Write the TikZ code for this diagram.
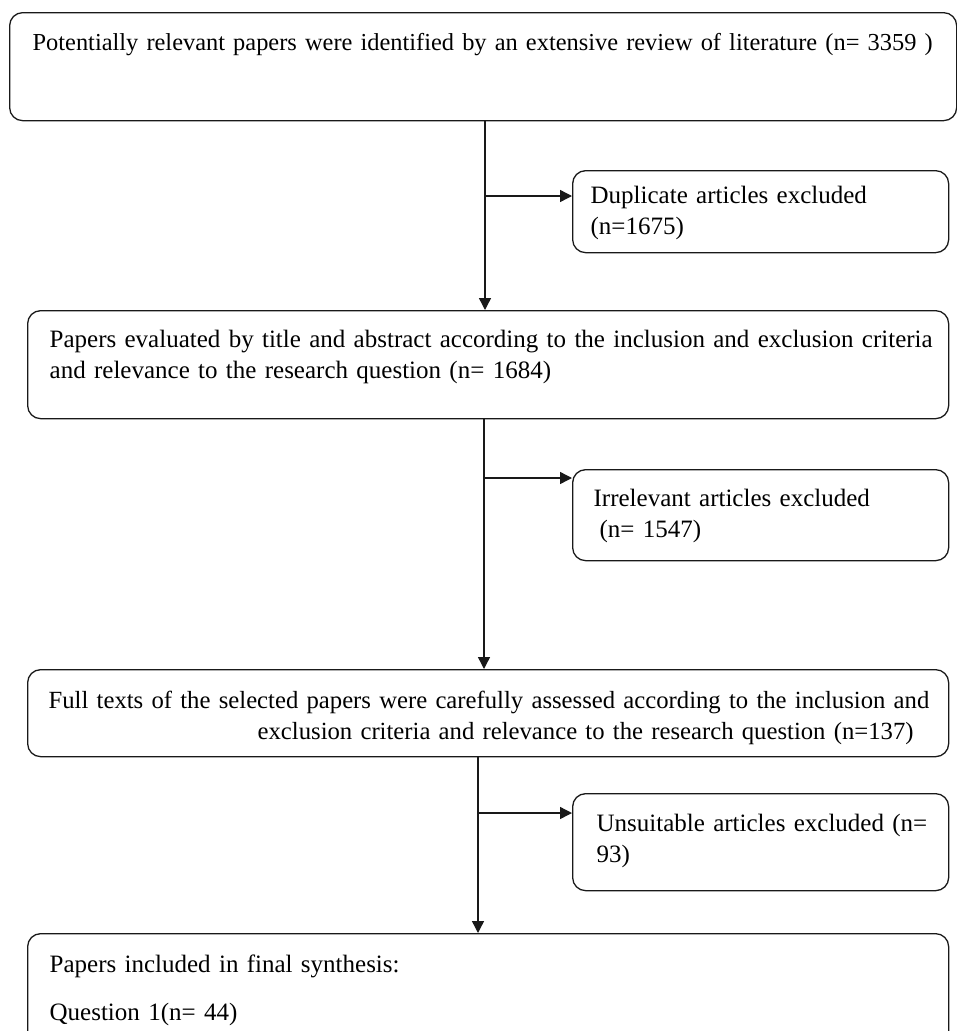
\documentclass[tikz,border=0pt]{standalone}
\usepackage{fontspec}
\setmainfont{Liberation Serif}
\usetikzlibrary{arrows.meta}

\begin{document}
\begin{tikzpicture}[x=1pt, y=-1pt,
  stage/.style={draw=black!90, text=black, rounded corners=13pt, line width=1.3pt, anchor=north west, align=left, inner ysep=0pt, font=\fontsize{25}{31}\selectfont},
  flow/.style={draw=black!90, -{Triangle[length=12pt,width=12pt]}, line width=1.4pt}
]
\useasboundingbox (0,0) rectangle (957,1031);
\clip (0,0) rectangle (957,1031);

% main stages
\node[stage, font=\fontsize{24.4}{31}\selectfont, inner xsep=23pt, text width=901pt, text height=38pt, text depth=70pt] (lit) at (9,12)
  {\mbox{Potentially relevant papers were identified by an extensive review of literature (n= 3359 )}};
\node[stage, inner xsep=22pt, text width=877pt, text height=37pt, text depth=71pt] (title) at (27,310)
  {\mbox{Papers evaluated by title and abstract according to the inclusion and exclusion criteria}\\and relevance to the research question (n= 1684)};
\node[stage, font=\fontsize{24.7}{31}\selectfont, inner xsep=21pt, text width=879pt, text height=39pt, text depth=48pt] (full) at (27,669)
  {\mbox{Full texts of the selected papers were carefully assessed according to the inclusion and}\\\hspace*{209pt}\mbox{exclusion criteria and relevance to the research question (n=137)}};
\node[stage, inner xsep=22pt, text width=877pt, text height=39pt, text depth=73pt] (final) at (27,933)
  {Papers included in final synthesis:\\[17pt]Question 1(n= 44)};

% excluded records
\node[stage, inner xsep=18pt, text width=340pt, text height=33pt, text depth=49pt] (dup) at (572,170)
  {Duplicate articles excluded\\(n=1675)};
\node[stage, inner xsep=21pt, text width=334pt, text height=37pt, text depth=54pt] (irr) at (572,469)
  {Irrelevant articles excluded\\\hspace*{6pt}(n= 1547)};
\node[stage, inner xsep=24pt, text width=328pt, text height=38pt, text depth=59pt] (uns) at (572,793)
  {\mbox{Unsuitable articles excluded (n=}\\93)};

% junctions on the trunk
\coordinate (jA) at (485,196);
\coordinate (jB) at (484,478);
\coordinate (jC) at (478,813);

\draw[flow] (jA |- lit.south) -- (jA |- title.north);
\draw[flow] (jA) -- (jA -| dup.west);
\draw[flow] (jB |- title.south) -- (jB |- full.north);
\draw[flow] (jB) -- (jB -| irr.west);
\draw[flow] (jC |- full.south) -- (jC |- final.north);
\draw[flow] (jC) -- (jC -| uns.west);
\end{tikzpicture}
\end{document}
